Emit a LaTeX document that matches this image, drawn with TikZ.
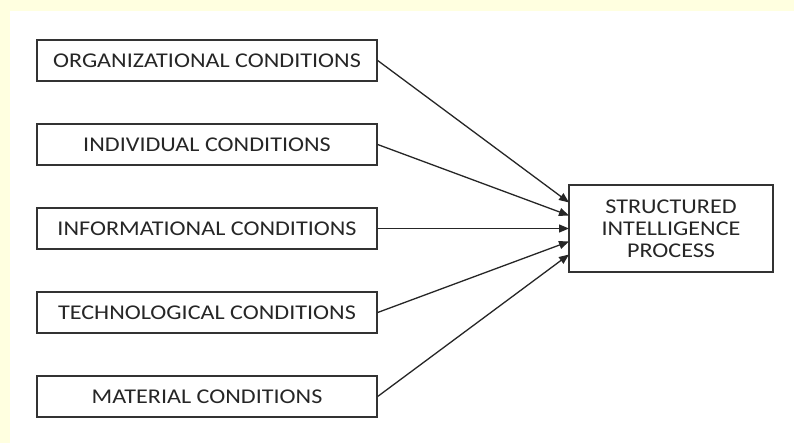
\documentclass[tikz,border=0pt]{standalone}
\usepackage{fontspec}
\setmainfont{Carlito}[FakeStretch=1.15]
\usetikzlibrary{arrows.meta}
\definecolor{paleyellow}{RGB}{255,255,224}

\begin{document}
\begin{tikzpicture}[x=1pt,y=-1pt, line width=1.3pt,
  condbox/.style={draw=black!80, fill=white, minimum width=340pt, minimum height=41pt, inner sep=0pt,
    font=\fontsize{21}{22}\selectfont, text=black!85},
  link/.style={draw=black!85, -{Triangle[length=10pt,width=8pt]}}]

% background
\fill[paleyellow] (0,0) rectangle (794,443);
\fill[white] (10,11) rectangle (794,443);

% conditions
\node[condbox] (org) at (207,60.5) {ORGANIZATIONAL CONDITIONS};
\node[condbox] (ind) at (207,144.5) {INDIVIDUAL CONDITIONS};
\node[condbox] (inf) at (207,228.5) {INFORMATIONAL CONDITIONS};
\node[condbox] (tech) at (207,312.5) {TECHNOLOGICAL CONDITIONS};
\node[condbox] (mat) at (207,396.5) {MATERIAL CONDITIONS};

% process
\node[condbox, minimum width=204pt, minimum height=87pt, align=center] (sip) at (671,228.5)
  {STRUCTURED\\INTELLIGENCE\\PROCESS};

% arrow ends
\coordinate (in1) at (569,202.5);
\coordinate (in2) at (569,215.5);
\coordinate (in3) at (569,228.5);
\coordinate (in4) at (569,241.5);
\coordinate (in5) at (569,254.5);

% arrows
\draw[link] (org.east) -- (in1);
\draw[link] (ind.east) -- (in2);
\draw[link] (inf.east) -- (in3);
\draw[link] (tech.east) -- (in4);
\draw[link] (mat.east) -- (in5);

\end{tikzpicture}
\end{document}
